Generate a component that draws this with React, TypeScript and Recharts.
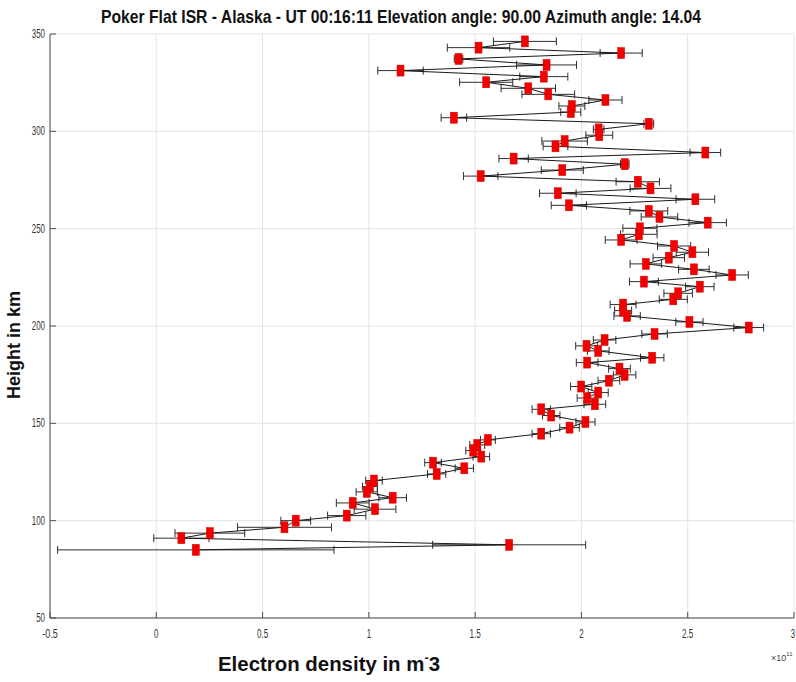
import React from 'react';
import { ScatterChart, Scatter, XAxis, YAxis, CartesianGrid, ErrorBar } from 'recharts';

// Range gates (km) from bottom to top
const heightKm = [
  85.0, 87.6, 91.0, 93.6, 96.6, 100.0, 102.6, 105.9, 109.1, 111.8,
  114.8, 117.5, 120.6, 124.0, 126.9, 129.8, 132.9, 136.0, 138.9, 141.5,
  144.7, 147.8, 150.7, 154.0, 157.2, 159.8, 163.0, 165.8, 168.9, 171.9,
  174.9, 178.1, 181.2, 183.7, 187.2, 189.8, 192.8, 195.9, 199.2, 202.1,
  205.2, 207.9, 211.0, 213.7, 216.8, 220.2, 222.8, 226.2, 229.1, 231.9,
  235.1, 237.9, 241.1, 244.2, 247.1, 250.2, 253.1, 256.0, 259.1, 262.0,
  265.1, 268.2, 270.7, 274.1, 277.0, 280.1, 283.1, 286.0, 289.1, 292.3,
  295.0, 298.0, 301.0, 303.9, 307.0, 309.9, 313.0, 316.1, 319.0, 322.1,
  325.2, 328.1, 331.2, 334.1, 337.2, 340.2, 343.0, 346.2,
];

// Electron density, in units of 1e11 m^-3
const density = [
  0.186, 1.66, 0.118, 0.252, 0.603, 0.656, 0.896, 1.029, 0.924, 1.112,
  0.99, 1.005, 1.024, 1.319, 1.449, 1.302, 1.529, 1.491, 1.51, 1.56,
  1.811, 1.944, 2.019, 1.858, 1.811, 2.063, 2.027, 2.079, 1.999, 2.129,
  2.203, 2.179, 2.027, 2.333, 2.079, 2.024, 2.109, 2.344, 2.787, 2.508,
  2.215, 2.196, 2.196, 2.432, 2.455, 2.557, 2.294, 2.709, 2.529, 2.303,
  2.411, 2.522, 2.436, 2.187, 2.27, 2.275, 2.594, 2.367, 2.317, 1.941,
  2.536, 1.889, 2.325, 2.265, 1.526, 1.91, 2.204, 1.681, 2.583, 1.878,
  1.921, 2.084, 2.081, 2.317, 1.4, 1.95, 1.955, 2.113, 1.844, 1.75,
  1.552, 1.823, 1.149, 1.836, 1.422, 2.187, 1.516, 1.734,
];

// One-sigma uncertainty of the density, same units
const densityErr = [
  0.65, 0.36, 0.13, 0.164, 0.221, 0.07, 0.09, 0.098, 0.077, 0.065,
  0.05, 0.035, 0.039, 0.043, 0.043, 0.039, 0.039, 0.035, 0.035, 0.035,
  0.043, 0.046, 0.045, 0.041, 0.043, 0.051, 0.047, 0.047, 0.05, 0.051,
  0.053, 0.051, 0.051, 0.055, 0.051, 0.051, 0.053, 0.06, 0.07, 0.064,
  0.062, 0.04, 0.061, 0.066, 0.067, 0.067, 0.068, 0.076, 0.072, 0.074,
  0.074, 0.076, 0.078, 0.075, 0.086, 0.08, 0.088, 0.086, 0.089, 0.083,
  0.091, 0.086, 0.096, 0.102, 0.081, 0.099, 0.02, 0.069, 0.072, 0.058,
  0.107, 0.063, 0.025, 0.023, 0.06, 0.047, 0.061, 0.078, 0.124, 0.128,
  0.125, 0.113, 0.107, 0.141, 0.02, 0.099, 0.147, 0.148,
];

const xTicks = [-0.5, 0, 0.5, 1, 1.5, 2, 2.5, 3];
const xTickLabels = ['-0.5', '0', '0.5', '1', '1.5', '2', '2.5', '3'];
const yTicks = [50, 100, 150, 200, 250, 300, 350];

const TITLE = 'Poker Flat ISR - Alaska - UT 00:16:11 Elevation angle: 90.00 Azimuth angle: 14.04';
const Y_LABEL = 'Height in km';
const X_LABEL = 'Electron density in m';
const X_SCALE_NOTE = '\u00d710';

const rows = heightKm.map((h, i) => ({ height: h, density: density[i], err: densityErr[i] }));

const SANS = '"Liberation Sans", Arial, sans-serif';
const AXIS_COLOR = '#4d4d4d';
const TICK_TEXT = '#333333';

// Narrow look for the tick labels: squeeze the glyphs horizontally
const tickWidth = (s: string) => s.length * 4.4 - (s.includes('.') ? 2 : 0);

const XTick = (props: any) => {
  const { x, y, payload } = props;
  const i = xTicks.indexOf(payload.value);
  const label = i >= 0 ? xTickLabels[i] : String(payload.value);
  return (
    <g>
      <line x1={x} y1={y} x2={x} y2={y - 6} stroke={AXIS_COLOR} strokeWidth={1} />
      <text
        x={label === '3' ? x - 1 : x}
        y={y + 20}
        textAnchor="middle"
        fontSize={13}
        fill={TICK_TEXT}
        fontFamily={SANS}
        textLength={tickWidth(label)}
        lengthAdjust="spacingAndGlyphs"
      >
        {label}
      </text>
    </g>
  );
};

const YTick = (props: any) => {
  const { x, y, payload } = props;
  const label = String(payload.value);
  return (
    <g>
      <line x1={x} y1={y} x2={x + 6} y2={y} stroke={AXIS_COLOR} strokeWidth={1} />
      <text
        x={x - 5}
        y={y + 4}
        textAnchor="end"
        fontSize={13}
        fill={TICK_TEXT}
        fontFamily={SANS}
        textLength={tickWidth(label)}
        lengthAdjust="spacingAndGlyphs"
      >
        {label}
      </text>
    </g>
  );
};

const SquareMarker = (props: any) => {
  const { cx, cy } = props;
  if (cx == null || cy == null) return null;
  return <rect x={cx - 3.5} y={cy - 5.5} width={7} height={11} fill="#f20000" stroke="#d40000" strokeWidth={0.5} />;
};

export default function App() {
  return (
    <div style={{ position: 'absolute', left: 0, top: 0, width: 796, height: 682, background: '#ffffff' }}>
      <ScatterChart width={796} height={682} margin={{ top: 34, right: 2, bottom: 0, left: 0 }}>
        <CartesianGrid stroke="#e3e3e3" strokeWidth={1} />
        <XAxis
          type="number"
          dataKey="density"
          domain={[-0.5, 3]}
          ticks={xTicks}
          interval={0}
          allowDataOverflow
          height={64}
          tickSize={0}
          tickMargin={0}
          tickLine={false}
          axisLine={{ stroke: AXIS_COLOR }}
          tick={<XTick />}
        />
        <YAxis
          type="number"
          dataKey="height"
          domain={[50, 350]}
          ticks={yTicks}
          interval={0}
          allowDataOverflow
          width={50}
          tickSize={0}
          tickMargin={0}
          tickLine={false}
          axisLine={{ stroke: AXIS_COLOR }}
          tick={<YTick />}
        />
        <Scatter
          data={rows}
          line={{ stroke: '#1a1a1a', strokeWidth: 1 }}
          lineType="joint"
          shape={<SquareMarker />}
          isAnimationActive={false}
        >
          <ErrorBar dataKey="err" direction="x" width={4} stroke="#2e2e2e" strokeWidth={1} isAnimationActive={false} />
        </Scatter>
      </ScatterChart>
      <svg
        width={796}
        height={682}
        style={{ position: 'absolute', left: 0, top: 0, pointerEvents: 'none' }}
      >
        <text
          x={101}
          y={23}
          fontSize={19}
          fontWeight="bold"
          fill="#111"
          fontFamily={SANS}
          textLength={600}
          lengthAdjust="spacingAndGlyphs"
        >
          {TITLE}
        </text>
        <text
          transform="translate(20 345) rotate(-90)"
          textAnchor="middle"
          fontSize={18}
          fontWeight="bold"
          fill="#111"
          fontFamily={SANS}
        >
          {Y_LABEL}
        </text>
        <text
          x={218}
          y={671}
          fontSize={21}
          fontWeight="bold"
          fill="#111"
          fontFamily={SANS}
          textLength={222}
          lengthAdjust="spacingAndGlyphs"
        >
          {X_LABEL}
          <tspan dy={-9} fontSize={13}>-</tspan>
          <tspan dy={9}>3</tspan>
        </text>
        <text x={771} y={661} fontSize={9} fill="#444" fontFamily={SANS}>
          {X_SCALE_NOTE}
          <tspan dy={-5} fontSize={6}>11</tspan>
        </text>
      </svg>
    </div>
  );
}
